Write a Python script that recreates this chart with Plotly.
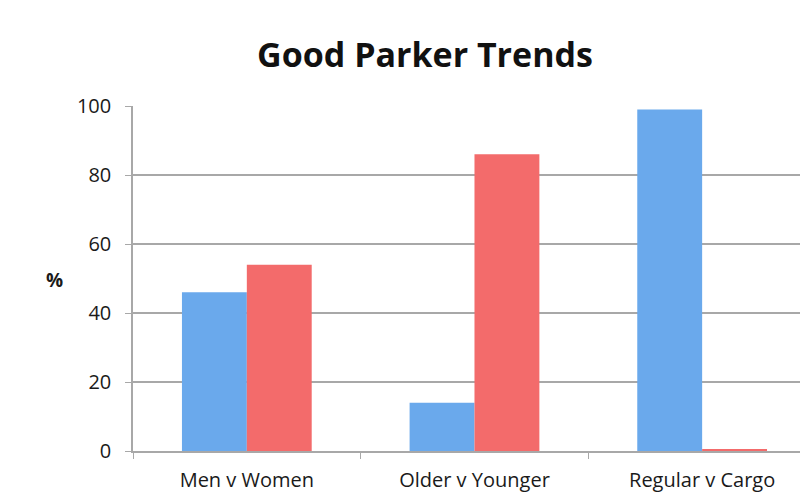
import plotly.graph_objects as go

categories = ["Men v Women", "Older v Younger", "Regular v Cargo"]
series_a = [46, 14, 99]   # blue
series_b = [54, 86, 0.4]  # red
y_ticks = [0, 20, 40, 60, 80, 100]

FONT = "Open Sans"

fig = go.Figure()
fig.add_trace(go.Bar(x=categories, y=series_a, name="A",
                     marker=dict(color="#6aa9ec", line=dict(width=0))))
fig.add_trace(go.Bar(x=categories, y=series_b, name="B",
                     marker=dict(color="#f36b6b", line=dict(width=0))))

fig.update_layout(
    width=800, height=494,
    margin=dict(l=125, r=0, t=98, b=51),
    paper_bgcolor="white", plot_bgcolor="white",
    barmode="group", bargap=0.43, bargroupgap=0,
    showlegend=False,
    title=dict(text="<b>Good Parker Trends</b>", x=417 / 800, xanchor="center",
               y=1 - 47 / 494, yanchor="middle", yref="container",
               font=dict(family=FONT, size=34, color="#111111")),
    font=dict(family=FONT, color="#1a1a1a"),
)
fig.update_yaxes(range=[0, 100], tickvals=y_ticks, showgrid=True,
                 gridcolor="#a8a8a8", gridwidth=1.5,
                 showline=True, linecolor="#a8a8a8", linewidth=1.5,
                 ticks="outside", ticklen=6, tickcolor="#a8a8a8",
                 ticklabelstandoff=10,
                 tickfont=dict(size=20, color="#1a1a1a"), zeroline=False)
fig.update_xaxes(range=[-0.5, 2.465], showline=True, linecolor="#a8a8a8",
                 linewidth=1.5, ticks="outside", tickson="boundaries",
                 ticklen=6, tickcolor="#a8a8a8", ticklabelstandoff=10,
                 tickfont=dict(size=20, color="#1a1a1a"))
fig.add_annotation(text="<b>%</b>", xref="paper", yref="paper",
                   x=(46 - 125) / 675, xanchor="center",
                   y=(443 - 272) / 345,
                   showarrow=False, font=dict(size=19, color="#1a1a1a"))

fig.write_html("out.html")
